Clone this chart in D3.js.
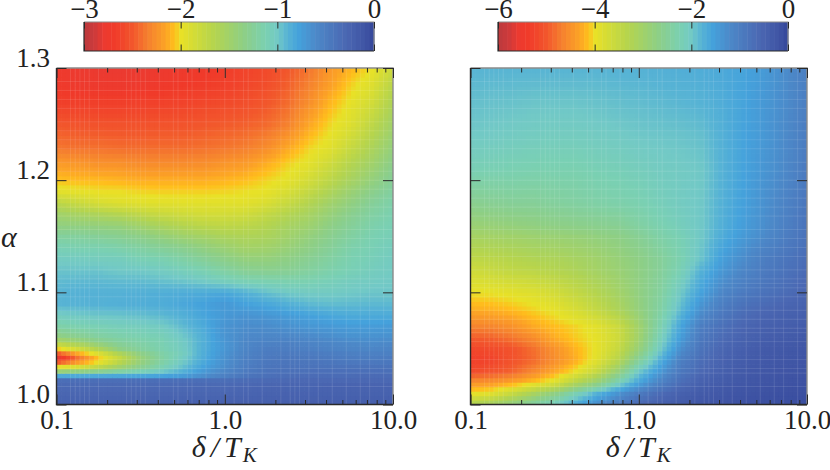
<!DOCTYPE html>
<html>
<head>
<meta charset="utf-8">
<script src="https://d3js.org/d3.v7.min.js"></script>
<style>
  body { margin: 0; background: #fff; }
  svg { display: block; }
  text { font-family: "Liberation Serif", serif; fill: #222; }
</style>
</head>
<body>
<div id="chart"></div>
<script>
const deltas = [0.1, 0.133, 0.178, 0.237, 0.316, 0.422, 0.562, 0.75, 1, 1.33, 1.78, 2.37, 3.16, 4.22, 5.62, 7.5, 10];

const leftAlphas = [1.3, 1.285, 1.27, 1.25, 1.23, 1.215, 1.2, 1.19, 1.18, 1.17, 1.16, 1.15, 1.14, 1.13, 1.12, 1.11, 1.1, 1.09, 1.08, 1.07, 1.06, 1.055, 1.05, 1.046, 1.042, 1.038, 1.034, 1.03, 1.0265, 1.024, 1.0225, 1.018, 1.0];
const leftValues = [
  [-2.75, -2.78, -2.8, -2.8, -2.8, -2.78, -2.75, -2.72, -2.68, -2.62, -2.58, -2.5, -2.38, -2.22, -2.1, -2.0, -1.8],
  [-2.72, -2.75, -2.76, -2.76, -2.75, -2.73, -2.7, -2.68, -2.65, -2.6, -2.55, -2.46, -2.33, -2.18, -2.03, -1.92, -1.68],
  [-2.66, -2.66, -2.66, -2.66, -2.65, -2.64, -2.63, -2.6, -2.58, -2.55, -2.5, -2.42, -2.27, -2.1, -1.98, -1.85, -1.6],
  [-2.5, -2.52, -2.53, -2.53, -2.53, -2.52, -2.52, -2.5, -2.48, -2.46, -2.42, -2.33, -2.15, -2.02, -1.92, -1.72, -1.5],
  [-2.38, -2.4, -2.4, -2.42, -2.42, -2.42, -2.42, -2.4, -2.38, -2.35, -2.28, -2.15, -2.03, -1.95, -1.78, -1.6, -1.4],
  [-2.2, -2.22, -2.25, -2.25, -2.28, -2.28, -2.28, -2.27, -2.23, -2.2, -2.12, -2.03, -1.96, -1.82, -1.65, -1.5, -1.32],
  [-2.06, -2.08, -2.08, -2.1, -2.12, -2.12, -2.12, -2.12, -2.1, -2.07, -2.02, -1.97, -1.85, -1.7, -1.55, -1.4, -1.25],
  [-1.95, -1.97, -2.0, -2.0, -2.02, -2.03, -2.03, -2.03, -2.02, -2.0, -1.98, -1.88, -1.75, -1.6, -1.45, -1.32, -1.2],
  [-1.7, -1.78, -1.88, -1.93, -1.95, -1.95, -1.96, -1.96, -1.95, -1.95, -1.9, -1.78, -1.65, -1.5, -1.38, -1.25, -1.15],
  [-1.5, -1.55, -1.6, -1.65, -1.72, -1.78, -1.82, -1.85, -1.85, -1.83, -1.75, -1.65, -1.55, -1.42, -1.3, -1.2, -1.12],
  [-1.38, -1.38, -1.4, -1.42, -1.5, -1.58, -1.65, -1.7, -1.72, -1.7, -1.65, -1.55, -1.48, -1.35, -1.25, -1.15, -1.1],
  [-1.22, -1.22, -1.25, -1.28, -1.33, -1.4, -1.47, -1.52, -1.58, -1.6, -1.58, -1.5, -1.4, -1.3, -1.2, -1.12, -1.08],
  [-1.1, -1.12, -1.12, -1.15, -1.2, -1.25, -1.3, -1.38, -1.45, -1.52, -1.5, -1.43, -1.35, -1.25, -1.15, -1.1, -1.05],
  [-1.03, -1.03, -1.05, -1.05, -1.1, -1.12, -1.18, -1.25, -1.33, -1.4, -1.4, -1.35, -1.28, -1.2, -1.12, -1.08, -1.03],
  [-0.97, -0.97, -0.97, -1.0, -1.0, -1.03, -1.07, -1.12, -1.2, -1.28, -1.3, -1.28, -1.22, -1.15, -1.1, -1.05, -1.02],
  [-0.93, -0.92, -0.92, -0.93, -0.93, -0.95, -0.97, -1.0, -1.05, -1.1, -1.12, -1.13, -1.12, -1.08, -1.04, -1.02, -1.0],
  [-0.9, -0.88, -0.88, -0.88, -0.87, -0.86, -0.85, -0.84, -0.82, -0.88, -0.95, -1.0, -1.02, -1.02, -1.0, -0.98, -0.98],
  [-0.9, -0.89, -0.88, -0.87, -0.86, -0.85, -0.82, -0.78, -0.72, -0.78, -0.82, -0.87, -0.92, -0.94, -0.93, -0.92, -0.92],
  [-1.03, -1.0, -0.98, -0.97, -0.95, -0.92, -0.87, -0.8, -0.72, -0.68, -0.7, -0.74, -0.78, -0.82, -0.84, -0.84, -0.84],
  [-1.18, -1.13, -1.1, -1.07, -1.05, -1.02, -0.93, -0.83, -0.68, -0.63, -0.63, -0.66, -0.7, -0.72, -0.74, -0.74, -0.73],
  [-1.4, -1.32, -1.22, -1.17, -1.13, -1.1, -1.0, -0.87, -0.68, -0.6, -0.58, -0.58, -0.6, -0.63, -0.66, -0.66, -0.65],
  [-1.7, -1.55, -1.38, -1.25, -1.18, -1.12, -1.02, -0.86, -0.7, -0.58, -0.54, -0.52, -0.56, -0.58, -0.6, -0.62, -0.6],
  [-2.05, -1.85, -1.62, -1.35, -1.22, -1.13, -1.03, -0.86, -0.7, -0.57, -0.5, -0.5, -0.52, -0.55, -0.57, -0.58, -0.56],
  [-2.5, -2.15, -1.9, -1.6, -1.35, -1.18, -1.05, -0.85, -0.68, -0.55, -0.48, -0.47, -0.48, -0.5, -0.52, -0.53, -0.52],
  [-2.85, -2.4, -2.05, -1.75, -1.42, -1.2, -1.02, -0.84, -0.66, -0.53, -0.46, -0.44, -0.45, -0.47, -0.49, -0.5, -0.48],
  [-2.5, -2.2, -1.98, -1.68, -1.4, -1.18, -1.0, -0.82, -0.65, -0.52, -0.44, -0.42, -0.42, -0.43, -0.45, -0.45, -0.44],
  [-1.98, -1.9, -1.72, -1.5, -1.3, -1.12, -0.95, -0.78, -0.63, -0.5, -0.42, -0.4, -0.4, -0.4, -0.4, -0.4, -0.4],
  [-1.45, -1.38, -1.3, -1.2, -1.1, -1.0, -0.88, -0.72, -0.58, -0.47, -0.4, -0.38, -0.37, -0.37, -0.37, -0.37, -0.36],
  [-0.85, -0.85, -0.84, -0.83, -0.82, -0.8, -0.75, -0.65, -0.53, -0.43, -0.38, -0.35, -0.34, -0.34, -0.34, -0.33, -0.33],
  [-0.78, -0.78, -0.78, -0.77, -0.76, -0.75, -0.7, -0.6, -0.5, -0.41, -0.36, -0.33, -0.32, -0.32, -0.32, -0.31, -0.31],
  [-0.36, -0.36, -0.36, -0.36, -0.36, -0.36, -0.36, -0.36, -0.36, -0.34, -0.32, -0.31, -0.3, -0.3, -0.3, -0.3, -0.3],
  [-0.32, -0.32, -0.32, -0.32, -0.32, -0.32, -0.32, -0.32, -0.32, -0.3, -0.28, -0.27, -0.27, -0.26, -0.26, -0.26, -0.26],
  [-0.22, -0.22, -0.22, -0.22, -0.22, -0.22, -0.22, -0.22, -0.22, -0.21, -0.21, -0.2, -0.2, -0.2, -0.2, -0.2, -0.2]
];

const rightAlphas = [1.3, 1.27, 1.24, 1.21, 1.18, 1.16, 1.15, 1.13, 1.12, 1.1, 1.085, 1.07, 1.06, 1.05, 1.04, 1.03, 1.02, 1.01, 1.0];
const rightValues = [
  [-1.8, -1.8, -1.8, -1.8, -1.8, -1.8, -1.8, -1.78, -1.77, -1.75, -1.72, -1.7, -1.65, -1.58, -1.45, -1.25, -1.05],
  [-1.9, -1.92, -1.93, -1.95, -1.95, -1.95, -1.93, -1.9, -1.88, -1.85, -1.82, -1.78, -1.7, -1.58, -1.42, -1.25, -1.03],
  [-2.0, -2.02, -2.05, -2.07, -2.08, -2.08, -2.05, -2.02, -1.98, -1.96, -1.94, -1.9, -1.74, -1.57, -1.42, -1.22, -1.0],
  [-2.2, -2.22, -2.23, -2.25, -2.25, -2.25, -2.2, -2.17, -2.12, -2.06, -2.03, -1.98, -1.76, -1.57, -1.38, -1.2, -0.95],
  [-2.6, -2.55, -2.5, -2.5, -2.45, -2.4, -2.35, -2.3, -2.25, -2.15, -2.06, -1.98, -1.74, -1.54, -1.32, -1.1, -0.88],
  [-2.9, -2.85, -2.8, -2.75, -2.7, -2.65, -2.6, -2.55, -2.4, -2.25, -2.12, -1.98, -1.72, -1.5, -1.28, -1.05, -0.82],
  [-3.1, -3.05, -3.0, -2.95, -2.9, -2.85, -2.78, -2.7, -2.55, -2.35, -2.2, -1.98, -1.68, -1.44, -1.22, -1.0, -0.8],
  [-3.45, -3.4, -3.32, -3.25, -3.2, -3.1, -3.0, -2.85, -2.7, -2.5, -2.25, -1.92, -1.5, -1.25, -1.0, -0.85, -0.7],
  [-3.65, -3.55, -3.45, -3.4, -3.3, -3.2, -3.05, -2.9, -2.72, -2.5, -2.2, -1.75, -1.4, -1.15, -0.95, -0.8, -0.65],
  [-4.0, -3.98, -3.92, -3.85, -3.7, -3.5, -3.3, -3.05, -2.75, -2.45, -2.0, -1.55, -1.15, -0.95, -0.8, -0.68, -0.55],
  [-4.25, -4.22, -4.15, -4.05, -3.95, -3.75, -3.5, -3.2, -2.8, -2.4, -1.85, -1.3, -0.95, -0.72, -0.6, -0.5, -0.45],
  [-4.65, -4.62, -4.5, -4.28, -4.15, -4.05, -3.9, -3.6, -3.0, -2.3, -1.6, -1.0, -0.75, -0.55, -0.45, -0.4, -0.35],
  [-4.95, -4.9, -4.75, -4.55, -4.25, -4.08, -3.95, -3.65, -3.0, -2.2, -1.5, -0.9, -0.65, -0.48, -0.38, -0.33, -0.28],
  [-5.2, -5.15, -5.05, -4.8, -4.5, -4.2, -3.95, -3.55, -2.85, -2.05, -1.3, -0.8, -0.55, -0.42, -0.32, -0.27, -0.24],
  [-5.3, -5.25, -5.05, -4.85, -4.55, -4.25, -3.9, -3.35, -2.5, -1.75, -1.05, -0.7, -0.48, -0.35, -0.28, -0.23, -0.2],
  [-5.15, -5.05, -4.9, -4.6, -4.3, -3.98, -3.55, -2.85, -2.0, -1.45, -0.9, -0.6, -0.42, -0.3, -0.24, -0.2, -0.18],
  [-4.5, -4.45, -4.3, -4.1, -3.85, -3.3, -2.85, -2.2, -1.6, -1.1, -0.7, -0.45, -0.33, -0.25, -0.2, -0.17, -0.15],
  [-3.95, -3.85, -3.5, -3.1, -2.7, -2.2, -1.75, -1.35, -0.95, -0.65, -0.45, -0.32, -0.25, -0.18, -0.15, -0.13, -0.12],
  [-3.2, -3.0, -2.7, -2.35, -2.05, -1.65, -1.25, -0.95, -0.6, -0.42, -0.32, -0.22, -0.18, -0.14, -0.12, -0.11, -0.1]
];

const leftBarTicks = [-3, -2, -1, 0];
const rightBarTicks = [-6, -4, -2, 0];
const alphaTicks = [1.0, 1.1, 1.2, 1.3];
const deltaMajor = [0.1, 1, 10];
const deltaMinor = [0.2, 0.3, 0.4, 0.5, 0.6, 0.7, 0.8, 0.9, 2, 3, 4, 5, 6, 7, 8, 9];

// colour stops, as fraction of the bar minimum
const cmapStops = [1, 0.96, 0.93, 0.9, 0.87, 0.83, 0.78, 0.72, 0.69, 0.665, 0.55, 0.45, 0.37, 0.333, 0.3, 0.26, 0.2, 0.1, 0.03, 0];
const cmapColors = ["#bb3a3e", "#d03a3a", "#ec3a30", "#f03a2a", "#f1452b", "#f2582c", "#f5802f", "#fca326", "#ffbe1c", "#e8e127",
  "#b4d44f", "#8ecf85", "#7ad0b3", "#72c9c6", "#58b4d4", "#45a2dc", "#4c88c8", "#4b68b3", "#3f54a4", "#34479b"];

// mesh lines that show up paler in the picture
const seamCols = [3, 4, 5, 6, 7, 9, 15, 16, 17, 18, 19, 22, 25, 26, 28, 29, 32, 36, 38, 40, 41, 44, 48, 50, 51, 52, 54, 56, 59, 62, 65, 67, 70];
const seamRows = [4, 7, 8, 10, 14, 16, 17, 19, 21, 24, 26, 27, 28, 30, 33, 35, 37, 39, 42, 44, 46, 48, 50, 52, 54, 57, 59, 61, 63, 66, 68, 70, 72];

const width = 830;
const height = 470;
const plotSize = { top: 68, bottom: 404.5 };
const dark = "#2a2a2a";
const grey = "#8c8c8c";
const nx = 72;
const ny = 75;

const cmap = d3.scaleLinear().domain(cmapStops).range(cmapColors).clamp(true);

const svg = d3.select("#chart").append("svg").attr("width", width).attr("height", height);

// value at (delta, alpha) from the table, used only to shade the mesh
function lookup(alphas, values, d, a) {
  const logs = deltas.map(Math.log10);
  const ld = Math.log10(d);
  const i = Math.min(d3.bisectRight(logs, ld) - 1, logs.length - 2);
  const asc = alphas.slice().reverse();
  const j = Math.max(Math.min(d3.bisectRight(asc, a) - 1, asc.length - 2), 0);
  const tx = (ld - logs[i]) / (logs[i + 1] - logs[i]);
  const ty = (a - asc[j]) / (asc[j + 1] - asc[j]);
  const r0 = values[alphas.length - 1 - j];
  const r1 = values[alphas.length - 2 - j];
  return (r0[i] * (1 - tx) + r0[i + 1] * tx) * (1 - ty) + (r1[i] * (1 - tx) + r1[i + 1] * tx) * ty;
}

const meshDelta = (i) => Math.pow(10, -1 + (2 * i) / nx);
const meshAlpha = (j) => 1 + (0.3 * j) / ny;

function drawPanel(left, alphas, values, vmin, barTicks, showY) {
  const x = d3.scaleLog().domain([0.1, 10]).range([left, left + 336.5]);
  const y = d3.scaleLinear().domain([1, 1.3]).range([plotSize.bottom, plotSize.top]);

  const cells = [];
  for (let i = 0; i < nx; i++) {
    for (let j = 0; j < ny; j++) {
      const d0 = meshDelta(i);
      const d1 = meshDelta(i + 1);
      const a0 = meshAlpha(j);
      const a1 = meshAlpha(j + 1);
      const v = lookup(alphas, values, Math.sqrt(d0 * d1), (a0 + a1) / 2);
      cells.push({ d0, d1, a0, a1, v, i, j });
    }
  }

  // cells overlap a little so no white shows between them
  const g = svg.append("g");
  g.selectAll("rect")
    .data(cells)
    .enter()
    .append("rect")
    .attr("x", (d) => x(d.d0))
    .attr("y", (d) => y(d.a1))
    .attr("width", (d) => x(d.d1) - x(d.d0) + (d.i < nx - 1 ? 0.7 : 0))
    .attr("height", (d) => y(d.a0) - y(d.a1) + (d.j > 0 ? 0.7 : 0))
    .attr("fill", (d) => cmap(d.v / vmin));

  const seams = svg.append("g").attr("stroke", "#fff").attr("stroke-opacity", 0.11).attr("stroke-width", 1);
  seams.selectAll(".col")
    .data(seamCols)
    .enter()
    .append("line")
    .attr("class", "col")
    .attr("x1", (i) => x(meshDelta(i)))
    .attr("x2", (i) => x(meshDelta(i)))
    .attr("y1", y(1))
    .attr("y2", y(1.3));
  seams.selectAll(".row")
    .data(seamRows)
    .enter()
    .append("line")
    .attr("class", "row")
    .attr("x1", x(0.1))
    .attr("x2", x(10))
    .attr("y1", (j) => y(meshAlpha(j)))
    .attr("y2", (j) => y(meshAlpha(j)));

  // frame: top and right are grey, left and bottom dark
  const frame = svg.append("g").attr("fill", "none").attr("stroke-width", 1.4);
  frame.append("path").attr("stroke", grey).attr("d", `M${x(0.1)},${y(1.3)}H${x(10)}V${y(1)}`);
  frame.append("path").attr("stroke", dark).attr("d", `M${x(0.1)},${y(1.3)}V${y(1)}H${x(10)}`);

  const tickTweak = (sel) => {
    sel.select(".domain").remove();
    sel.selectAll("line").attr("stroke", dark).attr("stroke-width", 1);
  };
  const labelFont = (sel) => sel.selectAll("text").attr("font-size", 27).attr("font-family", "Liberation Serif").attr("fill", "#222");

  // bottom and top ticks
  svg.append("g").attr("transform", `translate(0,${y(1)})`)
    .call(d3.axisBottom(x).tickValues(deltaMajor).tickSize(-10).tickPadding(5).tickFormat(d3.format(".1f")))
    .call(tickTweak)
    .call(labelFont);
  svg.append("g").attr("transform", `translate(0,${y(1)})`)
    .call(d3.axisBottom(x).tickValues(deltaMinor).tickSize(-4.5).tickFormat(""))
    .call(tickTweak);
  svg.append("g").attr("transform", `translate(0,${y(1.3)})`)
    .call(d3.axisTop(x).tickValues(deltaMajor).tickSize(-10).tickFormat(""))
    .call(tickTweak);
  svg.append("g").attr("transform", `translate(0,${y(1.3)})`)
    .call(d3.axisTop(x).tickValues(deltaMinor).tickSize(-4.5).tickFormat(""))
    .call(tickTweak);

  // left and right ticks
  svg.append("g").attr("transform", `translate(${x(0.1)},0)`)
    .call(d3.axisLeft(y).tickValues(alphaTicks).tickSize(-10).tickPadding(6.5).tickFormat(showY ? d3.format(".1f") : ""))
    .call(tickTweak)
    .call(labelFont)
    .call((s) => s.selectAll("text").attr("dy", "-2px"));
  svg.append("g").attr("transform", `translate(${x(10)},0)`)
    .call(d3.axisRight(y).tickValues(alphaTicks).tickSize(-10).tickFormat(""))
    .call(tickTweak);

  // x label
  const label = svg.append("text")
    .attr("x", x(1) - 0.5)
    .attr("y", 457)
    .attr("text-anchor", "middle")
    .attr("font-size", 30)
    .attr("font-style", "italic");
  label.append("tspan").attr("letter-spacing", 5).text("δ/T");
  label.append("tspan").attr("font-size", 21).attr("dy", 5).attr("dx", -3).text("K");

  // colour bar
  const barLeft = left + 27.5;
  const bar = d3.scaleLinear().domain([vmin, 0]).range([barLeft, barLeft + 290]);
  const barTop = 22;
  const barBottom = 51;
  const steps = d3.range(64).map((i) => vmin * (1 - i / 64));
  const barStep = -vmin / 64;
  svg.append("g")
    .selectAll("rect")
    .data(steps)
    .enter()
    .append("rect")
    .attr("x", (d) => bar(d))
    .attr("y", barTop)
    .attr("width", (d) => bar(d + barStep) - bar(d) + 0.5)
    .attr("height", barBottom - barTop)
    .attr("fill", (d) => cmap((d + barStep / 2) / vmin));

  const barFrame = svg.append("g").attr("fill", "none").attr("stroke-width", 1.2);
  barFrame.append("path").attr("stroke", grey).attr("d", `M${bar(vmin)},${barTop}H${bar(0)}V${barBottom}`);
  barFrame.append("path").attr("stroke", dark).attr("d", `M${bar(vmin)},${barTop}V${barBottom}H${bar(0)}`);

  svg.append("g").attr("transform", `translate(0,${barTop})`)
    .call(d3.axisTop(bar).tickValues(barTicks).tickSize(-6.5).tickPadding(4).tickFormat((d) => String(d).replace("-", "\u2212")))
    .call(tickTweak)
    .call(labelFont);
  svg.append("g").attr("transform", `translate(0,${barBottom})`)
    .call(d3.axisBottom(bar).tickValues(barTicks).tickSize(-6.5).tickFormat(""))
    .call(tickTweak);
}

drawPanel(56.5, leftAlphas, leftValues, -3, leftBarTicks, true);
drawPanel(470.5, rightAlphas, rightValues, -6, rightBarTicks, false);

svg.append("text")
  .attr("x", 1)
  .attr("y", 247)
  .attr("font-size", 30)
  .attr("font-style", "italic")
  .text("α");
</script>
</body>
</html>
